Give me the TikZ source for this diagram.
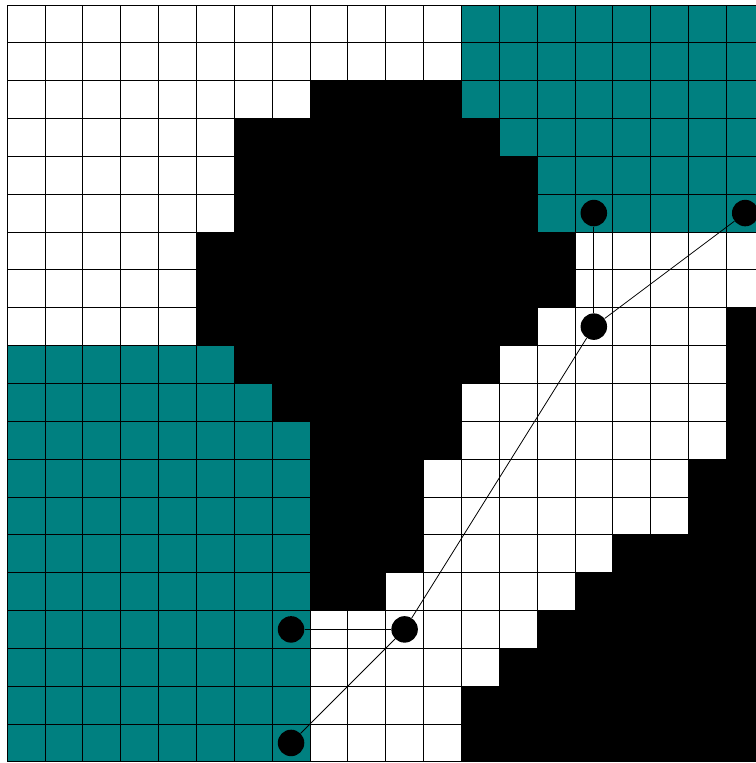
\documentclass[tikz,border=0pt]{standalone}
\usepackage{tikz}
\begin{document}
\begin{tikzpicture}[x=1cm,y=-1cm,cellline/.style={line width=0.6pt,draw=black},dot/.style={circle,fill=black,inner sep=0pt,minimum size=7mm},link/.style={line width=0.6pt,draw=black}]
\useasboundingbox (-0.19,-0.13) rectangle (19.78,20.03);
\clip (-0.19,-0.13) rectangle (19.78,20.03);
\fill[white] (0,0) rectangle (20,20);
\foreach \r/\a/\b in {0/12/19,1/12/19,2/12/19,3/13/19,4/14/19,5/14/19,9/0/5,10/0/6,11/0/7,12/0/7,13/0/7,14/0/7,15/0/7,16/0/7,17/0/7,18/0/7,19/0/7}{\fill[teal] (\a,\r) rectangle (\b+1,\r+1);}
\foreach \r/\a/\b in {2/8/11,3/6/12,4/6/13,5/6/13,6/5/14,7/5/14,8/5/13,8/19/19,9/6/12,9/19/19,10/7/11,10/19/19,11/8/11,11/19/19,12/8/10,12/18/19,13/8/10,13/18/19,14/8/10,14/16/19,15/8/9,15/15/19,16/14/19,17/13/19,18/12/19,19/12/19}{\fill[black] (\a,\r) rectangle (\b+1,\r+1);}
\draw[cellline] (0,0) grid (20,20);
\node[dot] (d0) at (15.5,5.5) {};
\node[dot] (d1) at (19.5,5.5) {};
\node[dot] (d2) at (15.5,8.5) {};
\node[dot] (d3) at (10.5,16.5) {};
\node[dot] (d4) at (7.5,16.5) {};
\node[dot] (d5) at (7.5,19.5) {};
\foreach \u/\v in {d0/d2,d1/d2,d2/d3,d3/d4,d3/d5}{\draw[link] (\u)--(\v);}
\end{tikzpicture}
\end{document}
